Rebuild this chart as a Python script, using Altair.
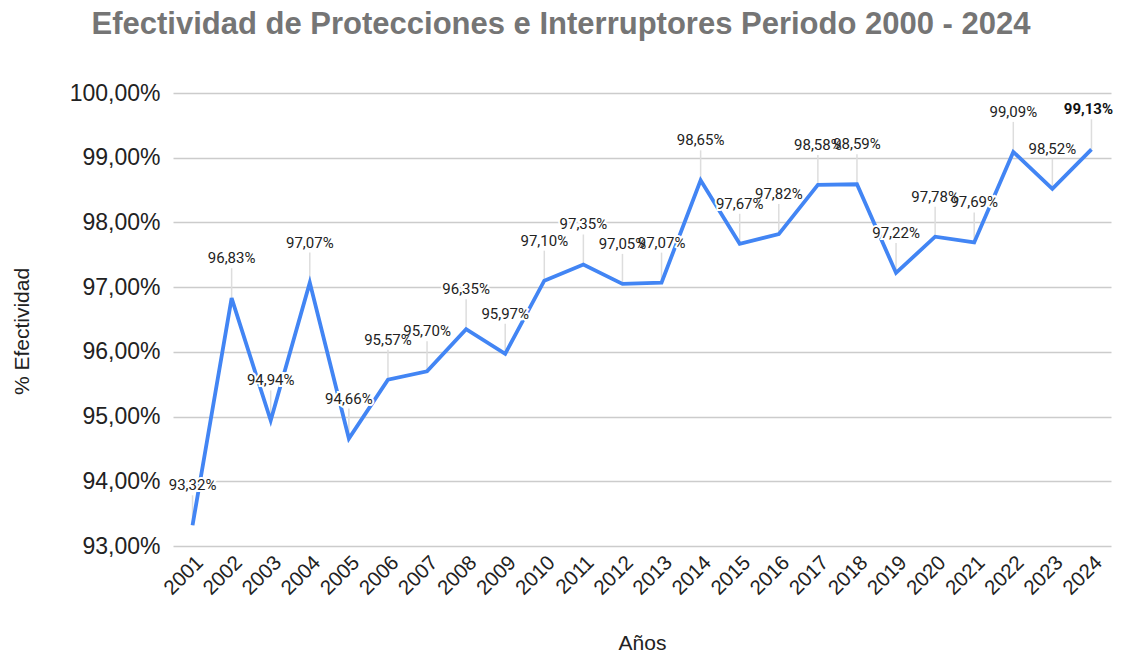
import altair as alt
import pandas as pd

years = ["2001", "2002", "2003", "2004", "2005", "2006", "2007", "2008",
         "2009", "2010", "2011", "2012", "2013", "2014", "2015", "2016",
         "2017", "2018", "2019", "2020", "2021", "2022", "2023", "2024"]
values = [93.32, 96.83, 94.94, 97.07, 94.66, 95.57, 95.70, 96.35,
          95.97, 97.10, 97.35, 97.05, 97.07, 98.65, 97.67, 97.82,
          98.58, 98.59, 97.22, 97.78, 97.69, 99.09, 98.52, 99.13]
y_ticks = [93, 94, 95, 96, 97, 98, 99, 100]

df = pd.DataFrame({"year": years, "value": values})
df["label"] = [f"{v:.2f}".replace(".", ",") + "%" for v in values]
df["last"] = [y == years[-1] for y in years]

FONT = "Liberation Sans"

x = alt.X("year:O", scale=alt.Scale(type="point", padding=0.5),
          sort=years,
          axis=alt.Axis(labelAngle=-45, labelFont=FONT, labelFontSize=20.5,
                        labelColor="#222222", labelPadding=6, ticks=False,
                        domain=False, grid=False, title="Años",
                        titleFont=FONT, titleFontSize=21, titleFontWeight="normal",
                        titleColor="#222222", titleBaseline="alphabetic",
                        titleY=103))
y = alt.Y("value:Q", scale=alt.Scale(domain=[93, 100], nice=False, zero=False),
          axis=alt.Axis(values=y_ticks,
                        labelExpr="replace(format(datum.value, '.2f'), '.', ',') + '%'",
                        labelFont=FONT, labelFontSize=23, labelColor="#222222",
                        labelPadding=13, ticks=False, domain=False, grid=True,
                        gridColor="#cccccc", gridWidth=1.3,
                        title="% Efectividad", titleFont=FONT, titleFontSize=21,
                        titleFontWeight="normal", titleColor="#222222",
                        titleX=-151, titleY=238, titleAngle=-90,
                        titleAlign="center", titleBaseline="middle"))

base = alt.Chart(df)

line = base.mark_line(color="#4285F4", strokeWidth=3.8).encode(x=x, y=y)
leaders = base.mark_rule(color="#dddddd", strokeWidth=1.5, y2Offset=-30).encode(
    x=x, y=y, y2=alt.Y2("value:Q"))
halo = base.transform_filter("!datum.last").mark_text(
    dy=-35, baseline="alphabetic", align="center", font="Roboto",
    fontSize=15, stroke="white", strokeWidth=4, color="white").encode(
    x=x, y=y, text="label:N")
labels = base.transform_filter("!datum.last").mark_text(
    dy=-35, baseline="alphabetic", align="center", font="Roboto", fontSize=15,
    color="#222222").encode(x=x, y=y, text="label:N")
label_last = base.transform_filter("datum.last").mark_text(
    dy=-35, dx=-3, baseline="alphabetic", align="center", font="Roboto", fontSize=15,
    fontWeight="bold", color="#111111").encode(x=x, y=y, text="label:N")

chart = alt.layer(leaders, line, halo, labels, label_last).properties(
    width=938, height=453,
    autosize=alt.AutoSizeParams(type="none"),
    padding={"left": 165, "top": 85, "right": 3, "bottom": 107},
    title=alt.TitleParams(
        text="Efectividad de Protecciones e Interruptores Periodo 2000 - 2024",
        font=FONT, fontSize=31, fontWeight="bold", color="#757575",
        anchor="middle", dx=-81, offset=41),
).configure_view(stroke=None)

chart.save("out.html", embed_options={"renderer": "svg", "actions": False})
